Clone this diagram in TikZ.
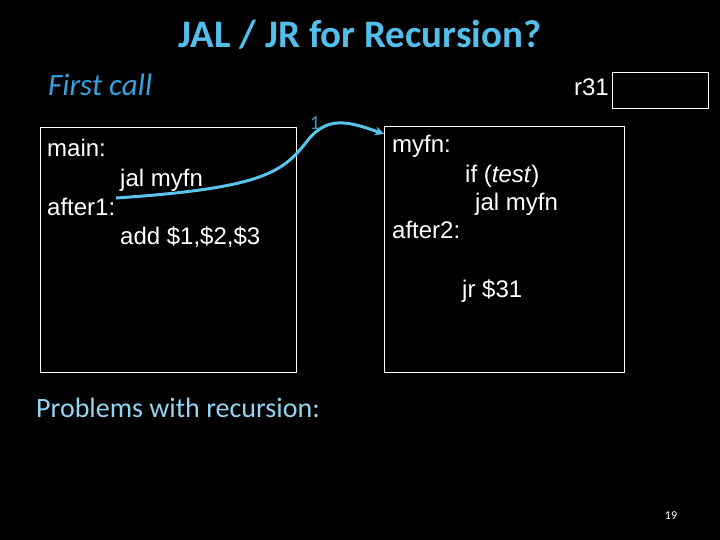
\documentclass[tikz,border=0pt]{standalone}
\usepackage{fontspec}
\setmainfont{Liberation Sans}
\newfontfamily\calib{Carlito}
\usetikzlibrary{arrows,positioning,calc}
\definecolor{titleblue}{RGB}{84,190,235}
\definecolor{callblue}{RGB}{52,162,222}
\definecolor{probblue}{RGB}{146,212,242}
\definecolor{arrowblue}{RGB}{88,196,236}
\definecolor{labelblue}{RGB}{60,150,200}
\newcommand{\codesize}{\fontsize{24}{29}\selectfont}

\begin{document}
\begin{tikzpicture}[x=1pt,y=-1pt,
    codebox/.style={draw=white, line width=1.1pt, anchor=north west, inner sep=0pt},
    codeline/.style={anchor=base west, inner sep=0pt, text=white, font=\codesize},
    callarrow/.style={arrowblue, line width=3pt, -stealth, shorten >=0pt}]
  % slide background
  \fill[black] (0,0) rectangle (720,540);
  \useasboundingbox (0,0) rectangle (720,540);

  % headings
  \node[anchor=base, inner sep=0pt, text=titleblue, font=\calib\bfseries\fontsize{39}{44}\selectfont] (title) at (360,48) {JAL / JR for Recursion?};
  \node[anchor=base west, inner sep=0pt, text=callblue, font=\calib\itshape\fontsize{31}{36}\selectfont] (firstcall) at (48,96) {First call};

  % register r31
  \node[codebox, minimum width=96pt, minimum height=36pt] (regbox) at (612,72) {};
  \node[codeline, anchor=base east] (reglabel) at (609,96) {r31};

  % caller
  \node[codebox, minimum width=256pt, minimum height=245pt] (mainbox) at (40,127) {};
  \node[codeline] (mainlbl) at (47,157) {main:};
  \node[codeline] (jal1) at (120,187) {jal myfn};
  \node[codeline] (after1) at (47,215) {after1:};
  \node[codeline] (addline) at (120,244) {add \$1,\$2,\$3};

  % callee
  \node[codebox, minimum width=240pt, minimum height=246pt] (myfnbox) at (384,126) {};
  \node[codeline] (myfnlbl) at (392,153) {myfn:};
  \node[codeline] (iftest) at (465,183) {if (\textit{test})};
  \node[codeline] (jal2) at (475,211) {jal myfn};
  \node[codeline] (after2) at (392,238) {after2:};
  \node[codeline] (jrline) at (462,297) {jr \$31};

  % first call
  \coordinate (callsrc) at (116,198);
  \coordinate (calldst) at ($(myfnbox.north west)+(0,8)$);
  \draw[callarrow] (callsrc) .. controls (265,188) and (283,172) .. (308,140)
    .. controls (328,115) and (350,122) .. (calldst);
  \node[anchor=base, inner sep=0pt, text=labelblue, font=\calib\fontsize{20}{22}\selectfont] (stepone) at (315,130) {1};

  \node[anchor=base west, inner sep=0pt, text=probblue, font=\calib\fontsize{28}{32}\selectfont] (problems) at (36,417) {Problems with recursion:};
  \node[anchor=base, inner sep=0pt, text=white, font=\calib\fontsize{12}{14}\selectfont] (pageno) at (671,519) {19};
\end{tikzpicture}
\end{document}
